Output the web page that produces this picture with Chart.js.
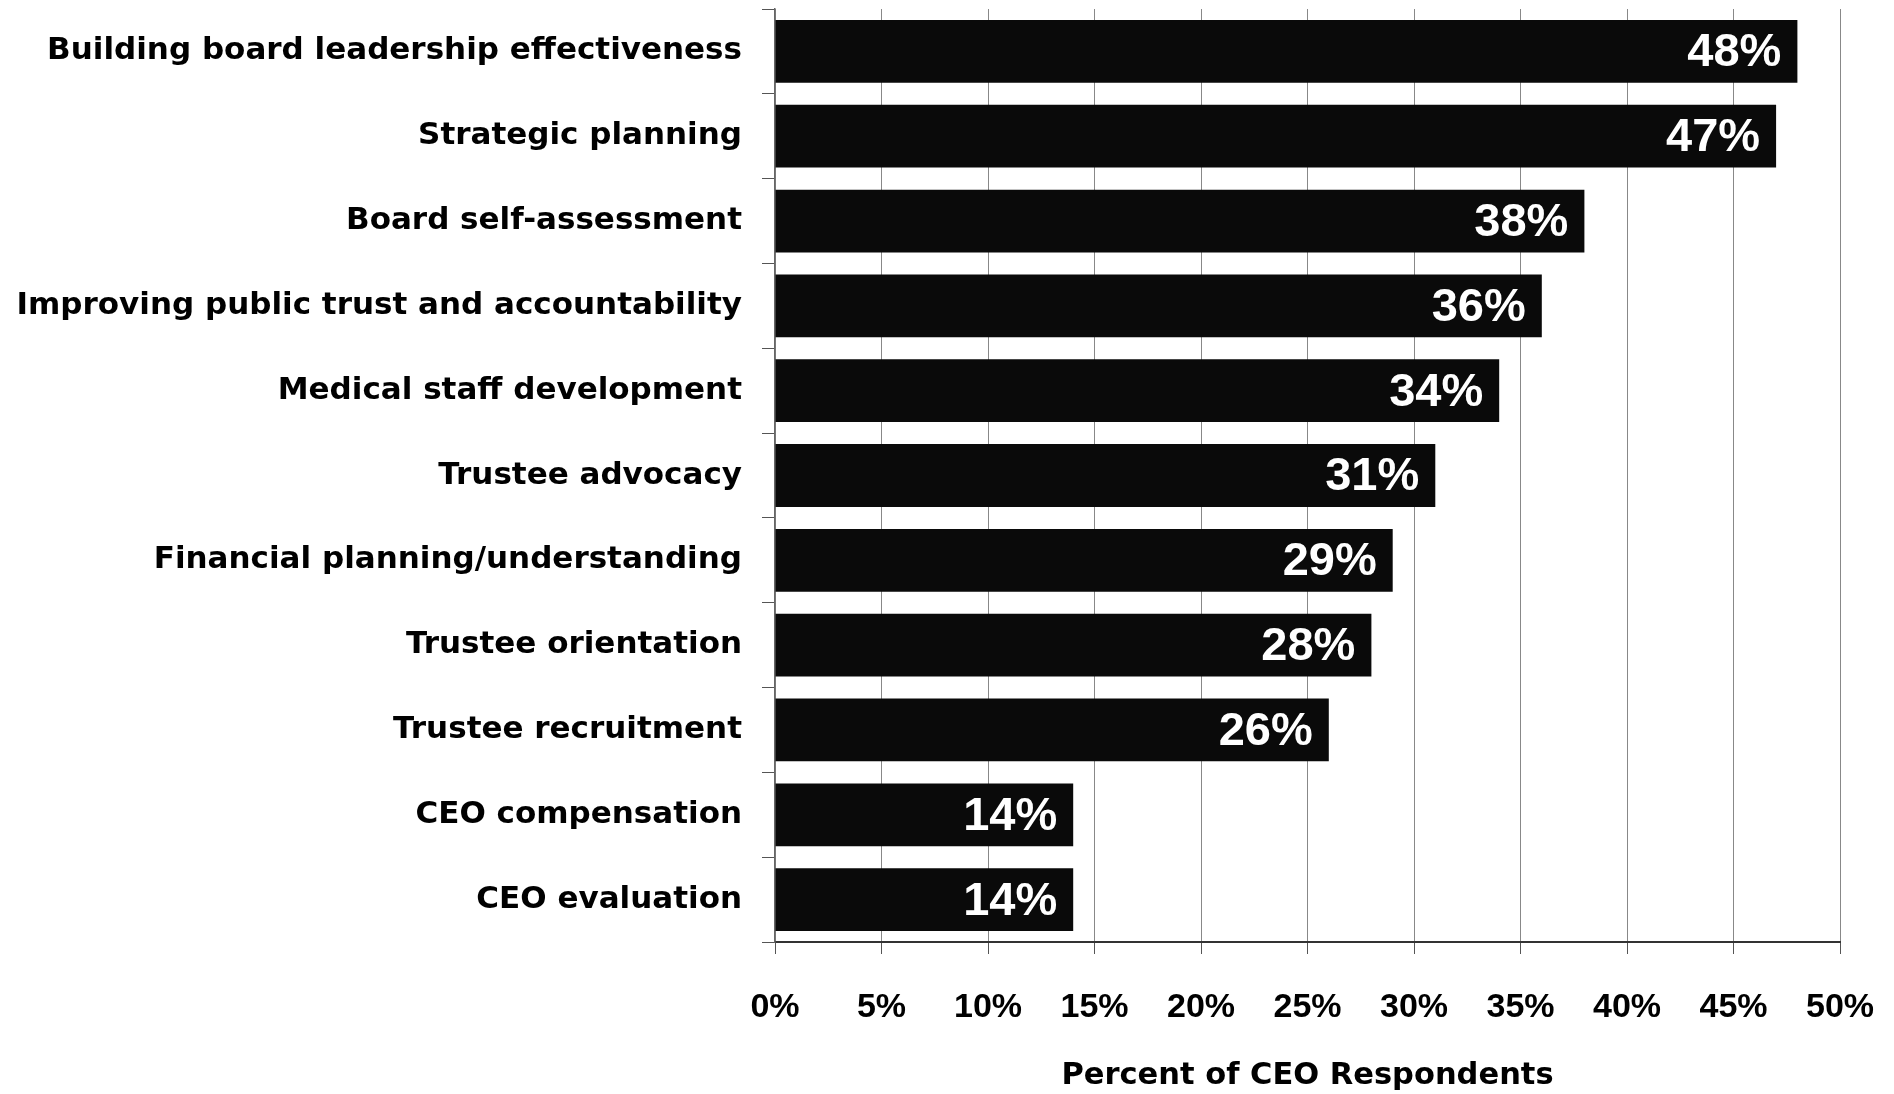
<!DOCTYPE html>
<html>
<head>
<meta charset="utf-8">
<script src="https://cdn.jsdelivr.net/npm/chart.js@4.4.1/dist/chart.umd.min.js"></script>
<style>
  html, body { margin: 0; padding: 0; background: #fff; }
  #wrap { width: 1894px; height: 1094px; }
</style>
</head>
<body>
<div id="wrap"><canvas id="chart" width="1894" height="1094"></canvas></div>
<script>
// Temas de capacitación del consejo
const categories = [
  'Building board leadership effectiveness',
  'Strategic planning',
  'Board self-assessment',
  'Improving public trust and accountability',
  'Medical staff development',
  'Trustee advocacy',
  'Financial planning/understanding',
  'Trustee orientation',
  'Trustee recruitment',
  'CEO compensation',
  'CEO evaluation'
];
const percents = [48, 47, 38, 36, 34, 31, 29, 28, 26, 14, 14];
const axisMin = 0;
const axisMax = 50;
const axisStep = 5;
const axisTitle = 'Percent of CEO Respondents';

// Etiquetas blancas al final de cada barra
const barLabels = {
  id: 'barLabels',
  afterDatasetsDraw(chart) {
    const ctx = chart.ctx;
    const meta = chart.getDatasetMeta(0);
    ctx.save();
    ctx.fillStyle = '#fff';
    ctx.font = 'bold 47px "Liberation Sans", Arial, sans-serif';
    ctx.textAlign = 'right';
    ctx.textBaseline = 'middle';
    meta.data.forEach((bar, i) => {
      ctx.fillText(percents[i] + '%', bar.x - 16, bar.y + 2);
    });
    ctx.restore();
  }
};

// Sin márgenes extra por las etiquetas de los ejes
function noLabelPadding(scale) {
  scale.paddingTop = 0;
  scale.paddingBottom = 0;
  scale.paddingLeft = 0;
  scale.paddingRight = 0;
}

const ctx = document.getElementById('chart').getContext('2d');
new Chart(ctx, {
  type: 'bar',
  data: {
    labels: categories,
    datasets: [{
      data: percents,
      backgroundColor: '#0a0a0a',
      borderWidth: 0,
      barPercentage: 0.74,
      categoryPercentage: 1
    }]
  },
  options: {
    indexAxis: 'y',
    responsive: false,
    animation: false,
    devicePixelRatio: 1,
    layout: { padding: { top: 9, right: 54, left: 0, bottom: 0 } },
    plugins: {
      legend: { display: false },
      tooltip: { enabled: false }
    },
    scales: {
      x: {
        min: axisMin,
        max: axisMax,
        afterFit(scale) { scale.height = 152; noLabelPadding(scale); },
        ticks: {
          stepSize: axisStep,
          color: '#000',
          padding: 33,
          font: { family: '"Liberation Sans", Arial, sans-serif', weight: 'bold', size: 34 },
          callback: v => v + '%'
        },
        grid: { color: '#888', lineWidth: 1, tickLength: 12, tickColor: '#555' },
        border: { color: '#333', width: 2 },
        title: {
          display: true,
          text: axisTitle,
          color: '#000',
          padding: { top: 24, bottom: 0 },
          font: { family: '"DejaVu Sans", sans-serif', weight: 'bold', size: 30.5 }
        }
      },
      y: {
        afterFit(scale) { scale.width = 775; noLabelPadding(scale); },
        ticks: {
          color: '#000',
          padding: 20,
          font: { family: '"DejaVu Sans", sans-serif', weight: 'bold', size: 31 }
        },
        grid: { offset: true, drawOnChartArea: false, tickLength: 13, color: '#555' },
        border: { color: '#666', width: 1.5 }
      }
    }
  },
  plugins: [barLabels]
});
</script>
</body>
</html>
